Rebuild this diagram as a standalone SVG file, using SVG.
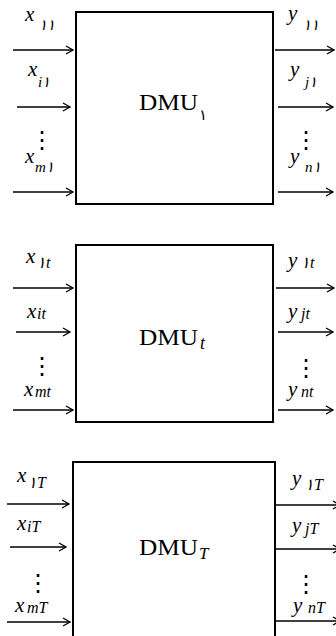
<svg xmlns="http://www.w3.org/2000/svg" width="336" height="636" viewBox="0 0 336 636">
<defs>
<marker id="ah" markerUnits="userSpaceOnUse" markerWidth="10" markerHeight="10" refX="7" refY="4" orient="auto" overflow="visible">
<path d="M0,0 L7,4 L0,8" fill="none" stroke="#000" stroke-width="1.3"/>
</marker>
</defs>
<style>
.box{fill:#fff;stroke:#000;stroke-width:2}
.ar{stroke:#000;stroke-width:1.3;fill:none;marker-end:url(#ah)}
.v{font-family:"Liberation Serif","DejaVu Serif",serif;font-style:italic;font-size:21px;fill:#000}
.s{font-family:"Liberation Serif","DejaVu Sans",serif;font-style:italic;font-size:15px}
.s2{font-family:"Liberation Serif","DejaVu Sans",serif;font-style:italic;font-size:16px}
.d{font-family:"Liberation Serif",serif;font-size:24px;fill:#000}
.dot{font-family:"DejaVu Sans",sans-serif;font-size:24px;fill:#000;text-anchor:middle}
</style>
<rect width="336" height="636" fill="#fff"/>
<g id="dmu1">
<rect class="box" x="76" y="12" width="197" height="192"/>
<text class="d" x="139" y="110" textLength="59" lengthAdjust="spacingAndGlyphs">DMU</text>
<text class="d" x="199" y="120" style="font-family:'DejaVu Sans',sans-serif;font-size:15px" direction="ltr">۱</text>
</g>
<g id="dmut">
<rect class="box" x="76" y="245" width="197" height="177"/>
<text class="d" x="139" y="345" textLength="59" lengthAdjust="spacingAndGlyphs">DMU</text>
<text class="d" x="200" y="349" style="font-style:italic;font-size:18px">t</text>
</g>
<g id="dmuT">
<rect class="box" x="73" y="462" width="202" height="200"/>
<text class="d" x="139" y="555" textLength="59" lengthAdjust="spacingAndGlyphs">DMU</text>
<text class="d" x="199" y="559" style="font-style:italic;font-size:17px">T</text>
</g>
<g id="connectors">
<line class="ar" x1="13" y1="50" x2="73" y2="50"/>
<line class="ar" x1="17" y1="107" x2="70" y2="107"/>
<line class="ar" x1="13" y1="192" x2="73" y2="192"/>
<line class="ar" x1="275" y1="50" x2="334" y2="50"/>
<line class="ar" x1="278" y1="107" x2="333" y2="107"/>
<line class="ar" x1="278" y1="192" x2="333" y2="192"/>
<line class="ar" x1="13" y1="288" x2="73" y2="288"/>
<line class="ar" x1="16" y1="332" x2="70" y2="332"/>
<line class="ar" x1="13" y1="410" x2="73" y2="410"/>
<line class="ar" x1="276" y1="288" x2="334" y2="288"/>
<line class="ar" x1="278" y1="332" x2="333" y2="332"/>
<line class="ar" x1="278" y1="410" x2="333" y2="410"/>
<line class="ar" x1="7" y1="504" x2="69" y2="504"/>
<line class="ar" x1="10" y1="547" x2="66" y2="547"/>
<line class="ar" x1="7" y1="622" x2="70" y2="622"/>
<line class="ar" x1="276" y1="505" x2="340" y2="505"/>
<line class="ar" x1="276" y1="549" x2="340" y2="549"/>
<line class="ar" x1="276" y1="621" x2="340" y2="621"/>
</g>
<g id="labels">
<text class="v" x="25" y="21">x<tspan class="s" x="39" y="30" direction="ltr">۱۱</tspan></text>
<text class="v" x="28" y="76">x<tspan class="s" x="38" y="87">i۱</tspan></text>
<text class="dot" x="42" y="148">⋮</text>
<text class="v" x="25" y="163">x<tspan class="s" x="35" y="172">m۱</tspan></text>
<text class="v" x="288" y="20">y<tspan class="s" x="303" y="30">۱۱</tspan></text>
<text class="v" x="290" y="76">y<tspan class="s" x="305" y="87">j۱</tspan></text>
<text class="dot" x="306" y="148">⋮</text>
<text class="v" x="290" y="163">y<tspan class="s" x="305" y="172">n۱</tspan></text>

<text class="v" x="26" y="263">x<tspan class="s2" x="37" y="268">۱t</tspan></text>
<text class="v" x="27" y="318">x<tspan class="s2" x="37" y="319">it</tspan></text>
<text class="dot" x="42" y="374">⋮</text>
<text class="v" x="24" y="396">x<tspan class="s2" x="35" y="397">mt</tspan></text>
<text class="v" x="288" y="267">y<tspan class="s2" x="301" y="268">۱t</tspan></text>
<text class="v" x="288" y="318">y<tspan class="s2" x="301" y="319">jt</tspan></text>
<text class="dot" x="306" y="376">⋮</text>
<text class="v" x="288" y="396">y<tspan class="s2" x="301" y="397">nt</tspan></text>

<text class="v" x="17" y="482">x<tspan class="s2" x="28" y="488">۱T</tspan></text>
<text class="v" x="17" y="530">x<tspan class="s2" x="27" y="532">iT</tspan></text>
<text class="dot" x="38" y="591">⋮</text>
<text class="v" x="15" y="612">x<tspan class="s2" x="27" y="613">mT</tspan></text>
<text class="v" x="292" y="485">y<tspan class="s2" x="305" y="490">۱T</tspan></text>
<text class="v" x="292" y="532">y<tspan class="s2" x="305" y="534">jT</tspan></text>
<text class="dot" x="306" y="592">⋮</text>
<text class="v" x="293" y="612">y<tspan class="s2" x="308" y="613">nT</tspan></text>
</g>
</svg>
